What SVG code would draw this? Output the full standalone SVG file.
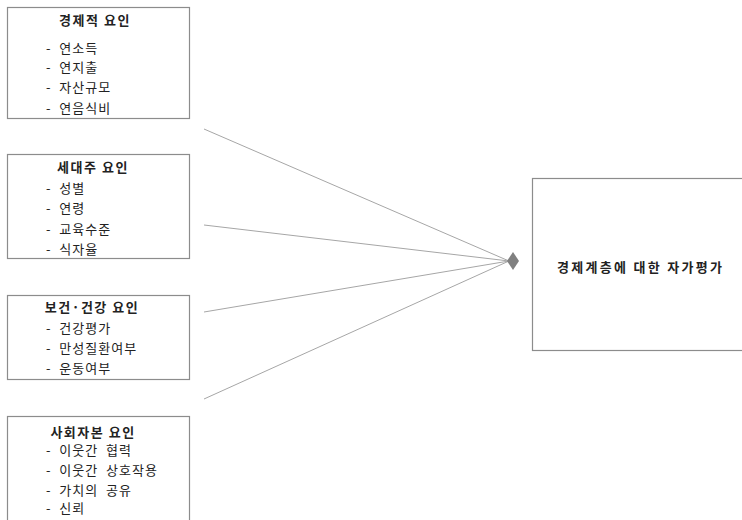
<svg xmlns="http://www.w3.org/2000/svg" width="742" height="520" viewBox="0 0 742 520">
<style>
.box{fill:#fff;stroke:#8c8c8c;stroke-width:1.2}
.t{font-family:"Noto Sans CJK KR","Liberation Sans",sans-serif;font-size:13px;fill:#222;letter-spacing:1px}
.h{font-weight:bold;text-anchor:middle;letter-spacing:1.5px}
.r{font-weight:bold;letter-spacing:2.3px}
.c{stroke:#a6a6a6;stroke-width:1;fill:none}
</style>
<rect width="742" height="520" fill="#fff"/>
<g id="economic">
<rect class="box" x="7.5" y="7.5" width="182" height="111"/>
<text class="t h" x="95" y="25">경제적 요인</text>
<text class="t" x="46" y="53" xml:space="preserve">-  연소득</text>
<text class="t" x="46" y="72" xml:space="preserve">-  연지출</text>
<text class="t" x="46" y="92" xml:space="preserve">-  자산규모</text>
<text class="t" x="46" y="113" xml:space="preserve">-  연음식비</text>
</g>
<g id="household">
<rect class="box" x="7.5" y="154.5" width="182" height="104"/>
<text class="t h" x="93" y="172">세대주 요인</text>
<text class="t" x="46" y="193" xml:space="preserve">-  성별</text>
<text class="t" x="46" y="213" xml:space="preserve">-  연령</text>
<text class="t" x="46" y="234" xml:space="preserve">-  교육수준</text>
<text class="t" x="46" y="254" xml:space="preserve">-  식자율</text>
</g>
<g id="health">
<rect class="box" x="7.5" y="295.5" width="182" height="84"/>
<text class="t h" x="92" y="312">보건·건강 요인</text>
<text class="t" x="46" y="333" xml:space="preserve">-  건강평가</text>
<text class="t" x="46" y="353" xml:space="preserve">-  만성질환여부</text>
<text class="t" x="46" y="373" xml:space="preserve">-  운동여부</text>
</g>
<g id="social">
<rect class="box" x="7.5" y="416.5" width="182" height="110"/>
<text class="t h" x="93" y="437">사회자본 요인</text>
<text class="t" x="46" y="455" xml:space="preserve">-  이웃간  협력</text>
<text class="t" x="46" y="475" xml:space="preserve">-  이웃간  상호작용</text>
<text class="t" x="46" y="495" xml:space="preserve">-  가치의  공유</text>
<text class="t" x="46" y="513" xml:space="preserve">-  신뢰</text>
</g>
<g id="selfrating">
<rect class="box" x="532.5" y="178.5" width="215" height="172"/>
<text class="t r" x="557" y="272">경제계층에 대한 자가평가</text>
</g>
<g id="connectors">
<line class="c" x1="204" y1="129" x2="509" y2="261"/>
<line class="c" x1="204" y1="225" x2="509" y2="261"/>
<line class="c" x1="204" y1="312" x2="509" y2="261"/>
<line class="c" x1="204" y1="399" x2="509" y2="261"/>
<polygon points="507,261 513,252 519,261 513,270" fill="#808080"/>
</g>
</svg>
